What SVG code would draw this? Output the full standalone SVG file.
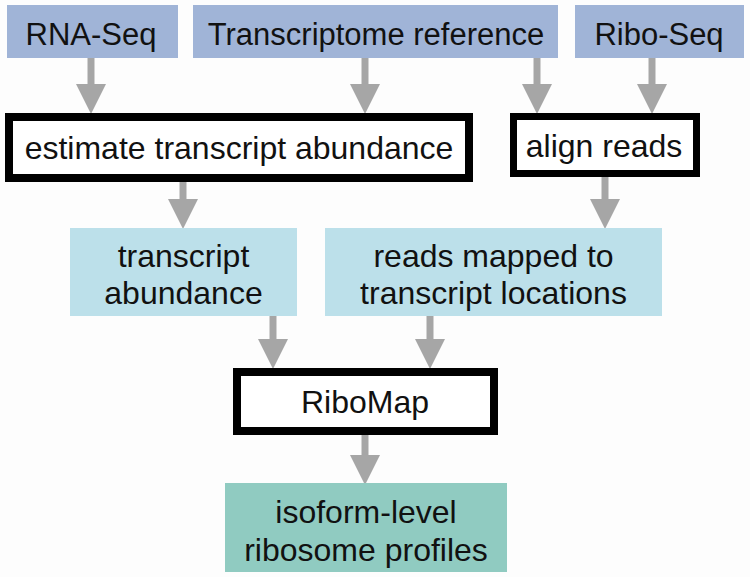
<svg xmlns="http://www.w3.org/2000/svg" width="750" height="577" viewBox="0 0 750 577">
<style>
  text { font-family: "Liberation Sans", Arial, sans-serif; font-size: 32px; fill: #111; text-anchor: middle; }
  .input text { font-size: 31px; }
  .input rect { fill: #a0b4d7; }
  .data { fill: #bce0ea; }
  .result { fill: #90cbc1; }
  .proc { fill: #fff; stroke: #000; }
  .conn line { stroke: #a6a6a6; stroke-width: 7; marker-end: url(#head); }
</style>
<defs>
  <marker id="head" markerUnits="userSpaceOnUse" markerWidth="30" markerHeight="30" refX="0" refY="15" orient="auto" viewBox="0 0 30 30">
    <path d="M0,0 L30,15 L0,30 Z" fill="#a6a6a6"/>
  </marker>
</defs>
<rect width="750" height="577" fill="#fdfdfd"/>
<g class="conn" id="connectors">
  <line x1="91" y1="58" x2="91" y2="84"/>
  <line x1="365" y1="58" x2="365" y2="84"/>
  <line x1="537" y1="58" x2="537" y2="84"/>
  <line x1="652" y1="58" x2="652" y2="84"/>
  <line x1="183" y1="182" x2="183" y2="199"/>
  <line x1="605" y1="177" x2="605" y2="199"/>
  <line x1="273" y1="316" x2="273" y2="339"/>
  <line x1="430" y1="316" x2="430" y2="339"/>
  <line x1="365" y1="435" x2="365" y2="455"/>
</g>
<g id="rnaseq" class="input">
  <rect x="7" y="5" width="171" height="53"/>
  <text x="91" y="45">RNA-Seq</text>
</g>
<g id="transcriptome" class="input">
  <rect x="193" y="5" width="365" height="53"/>
  <text x="376" y="45">Transcriptome reference</text>
</g>
<g id="riboseq" class="input">
  <rect x="575" y="5" width="169" height="53"/>
  <text x="659" y="45">Ribo-Seq</text>
</g>
<g id="estimate">
  <rect class="proc" stroke-width="8" x="9" y="117" width="460" height="61"/>
  <text x="239" y="159">estimate transcript abundance</text>
</g>
<g id="align">
  <rect class="proc" stroke-width="7" x="513.5" y="116.5" width="183" height="57"/>
  <text x="604" y="157">align reads</text>
</g>
<g id="abundance">
  <rect class="data" x="70" y="228" width="227" height="88"/>
  <text x="183.5" y="267">transcript</text>
  <text x="183.5" y="304">abundance</text>
</g>
<g id="mapped">
  <rect class="data" x="325" y="228" width="337" height="88"/>
  <text x="493.5" y="267">reads mapped to</text>
  <text x="493.5" y="304">transcript locations</text>
</g>
<g id="ribomap">
  <rect class="proc" stroke-width="8" x="237" y="372" width="257" height="59"/>
  <text x="365" y="413">RiboMap</text>
</g>
<g id="profiles">
  <rect class="result" x="225" y="483" width="282" height="89"/>
  <text x="366" y="523">isoform-level</text>
  <text x="366" y="561">ribosome profiles</text>
</g>
</svg>
